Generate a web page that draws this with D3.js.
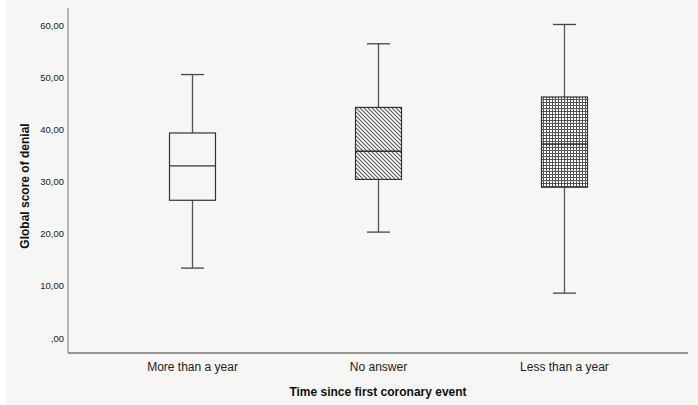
<!DOCTYPE html>
<html>
<head>
<meta charset="utf-8">
<script src="https://cdn.jsdelivr.net/npm/d3@7"></script>
<style>
  html, body { margin: 0; padding: 0; background: #ffffff; }
  svg { display: block; }
</style>
</head>
<body>
<svg id="chart" width="698" height="405"></svg>
<script>
// Groups along the x axis
const categories = ["More than a year", "No answer", "Less than a year"];
// Box-plot summaries per group
const whiskerLow  = [13.4, 20.3, 8.6];
const quartile1   = [26.4, 30.4, 28.9];
const medians     = [33.0, 35.8, 37.2];
const quartile3   = [39.3, 44.2, 46.2];
const whiskerHigh = [50.5, 56.4, 60.1];
// Y axis ticks
const yTicks = [0, 10, 20, 30, 40, 50, 60];
const fills = ["plain", "diagonal", "grid"];

(function draw() {
  const svg = d3.select("#chart");
  const W = 698, H = 405;
  const plotLeft = 68, plotRight = 688, plotTop = 8, plotBottom = 353;

  svg.append("rect").attr("x", 6).attr("y", 0).attr("width", W - 6).attr("height", H)
    .attr("fill", "#f6f7f5");

  const defs = svg.append("defs");
  const diag = defs.append("pattern").attr("id", "diagonal")
    .attr("patternUnits", "userSpaceOnUse").attr("width", 4).attr("height", 4);
  diag.append("rect").attr("width", 4).attr("height", 4).attr("fill", "#ffffff");
  diag.append("path").attr("d", "M-1,-1 L5,5 M3,-1 L5,1 M-1,3 L1,5")
    .attr("stroke", "#555").attr("stroke-width", 1.1);

  const grid = defs.append("pattern").attr("id", "grid")
    .attr("patternUnits", "userSpaceOnUse").attr("width", 3).attr("height", 3);
  grid.append("rect").attr("width", 3).attr("height", 3).attr("fill", "#ffffff");
  grid.append("path").attr("d", "M0,0.5 H3 M0.5,0 V3")
    .attr("stroke", "#555").attr("stroke-width", 1);

  const y = d3.scaleLinear().domain([0, 60]).range([338, 25]);
  const x = d3.scalePoint().domain(categories).range([plotLeft, plotRight]).padding(0.667);

  // Axes
  const fmt = v => (v === 0 ? "" : String(v)) + ",00";
  const yAxis = svg.append("g").attr("transform", `translate(${plotLeft},0)`)
    .call(d3.axisLeft(y).tickValues(yTicks).tickSize(0).tickPadding(4).tickFormat(fmt));
  yAxis.select(".domain").remove();
  yAxis.selectAll("text").attr("font-family", "Liberation Sans, Arial, sans-serif")
    .attr("font-size", 9.5).attr("fill", "#222");

  const xAxis = svg.append("g").attr("transform", `translate(0,${plotBottom})`)
    .call(d3.axisBottom(x).tickSize(0).tickPadding(9));
  xAxis.select(".domain").remove();
  xAxis.selectAll("text").attr("font-family", "Liberation Sans, Arial, sans-serif")
    .attr("font-size", 12).attr("fill", "#222");

  svg.append("line").attr("x1", plotLeft).attr("x2", plotLeft).attr("y1", plotTop).attr("y2", plotBottom)
    .attr("stroke", "#777").attr("stroke-width", 1);
  svg.append("line").attr("x1", plotLeft).attr("x2", plotRight).attr("y1", plotBottom).attr("y2", plotBottom)
    .attr("stroke", "#777").attr("stroke-width", 1.3);

  // Titles
  svg.append("text").attr("x", (plotLeft + plotRight) / 2).attr("y", 396)
    .attr("text-anchor", "middle").attr("font-family", "Liberation Sans, Arial, sans-serif")
    .attr("font-size", 12).attr("font-weight", "bold").attr("fill", "#111")
    .text("Time since first coronary event");
  svg.append("text").attr("transform", "translate(29,186) rotate(-90)")
    .attr("text-anchor", "middle").attr("font-family", "Liberation Sans, Arial, sans-serif")
    .attr("font-size", 12).attr("font-weight", "bold").attr("fill", "#111")
    .text("Global score of denial");

  // Boxes
  const boxW = 46, capW = 23;
  categories.forEach((c, i) => {
    const cx = Math.round(x(c)) + 0.5;
    const g = svg.append("g");
    g.append("line").attr("x1", cx).attr("x2", cx)
      .attr("y1", y(whiskerHigh[i])).attr("y2", y(quartile3[i]))
      .attr("stroke", "#555").attr("stroke-width", 1.3);
    g.append("line").attr("x1", cx).attr("x2", cx)
      .attr("y1", y(quartile1[i])).attr("y2", y(whiskerLow[i]))
      .attr("stroke", "#555").attr("stroke-width", 1.3);
    [whiskerHigh[i], whiskerLow[i]].forEach(v => {
      g.append("line").attr("x1", cx - capW / 2).attr("x2", cx + capW / 2)
        .attr("y1", y(v)).attr("y2", y(v)).attr("stroke", "#444").attr("stroke-width", 1.3);
    });
    g.append("rect").attr("x", cx - boxW / 2).attr("y", y(quartile3[i]))
      .attr("width", boxW).attr("height", y(quartile1[i]) - y(quartile3[i]))
      .attr("fill", fills[i] === "plain" ? "#f6f7f5" : `url(#${fills[i]})`)
      .attr("stroke", "#333").attr("stroke-width", 1.2);
    g.append("line").attr("x1", cx - boxW / 2).attr("x2", cx + boxW / 2)
      .attr("y1", y(medians[i])).attr("y2", y(medians[i]))
      .attr("stroke", "#333").attr("stroke-width", 1.3);
  });
})();
</script>
</body>
</html>
